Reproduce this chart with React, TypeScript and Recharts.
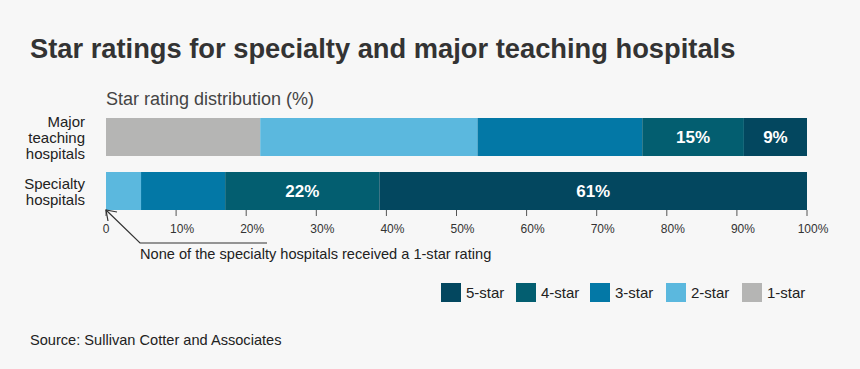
import { BarChart, Bar, XAxis, YAxis, LabelList } from 'recharts'

const categories = ['Major teaching hospitals', 'Specialty hospitals']
const categoryLines = [
  ['Major', 'teaching', 'hospitals'],
  ['Specialty', 'hospitals'],
]
const oneStar = [22, 0]
const twoStar = [31, 5]
const threeStar = [23.5, 12]
const fourStar = [14.5, 22]
const fiveStar = [9, 61]
const xTicks = [0, 10, 20, 30, 40, 50, 60, 70, 80, 90, 100]

const FONT = '"Liberation Sans", Arial, Helvetica, sans-serif'

const series = [
  { key: 'one', name: '1-star', color: '#b5b5b4', values: oneStar, label: false },
  { key: 'two', name: '2-star', color: '#5bb8de', values: twoStar, label: false },
  { key: 'three', name: '3-star', color: '#0378a6', values: threeStar, label: false },
  { key: 'four', name: '4-star', color: '#035e70', values: fourStar, label: true },
  { key: 'five', name: '5-star', color: '#03475f', values: fiveStar, label: true },
]

const data = categories.map((name, i) => {
  const row: any = { name }
  series.forEach((s) => (row[s.key] = s.values[i]))
  return row
})

const CategoryTick = ({ x, y, payload }: any) => {
  const lines = categoryLines[categories.indexOf(payload.value)] || [payload.value]
  const step = 16
  const first = y - ((lines.length - 1) * step) / 2 + 5.5
  return (
    <text x={x - 13} y={first} textAnchor="end" fill="#222" fontSize={15} fontFamily={FONT}>
      {lines.map((l: string, i: number) => (
        <tspan key={i} x={x - 13} y={first + i * step}>
          {l}
        </tspan>
      ))}
    </text>
  )
}

const PercentTick = ({ x, y, payload }: any) => {
  const v = payload.value
  return (
    <g>
      <line x1={x} x2={x} y1={y - 8} y2={y - 2} stroke="#555" strokeWidth={1} />
      <text x={v === 0 ? x : x + 6} y={y + 15} textAnchor="middle" fill="#333" fontSize={12} fontFamily={FONT}>
        {v === 0 ? '0' : `${v}%`}
      </text>
    </g>
  )
}

const SegmentLabel = ({ x, y, width, height, value }: any) => (
  <text
    x={x + width / 2}
    y={y + height / 2 + 6}
    textAnchor="middle"
    fill="#fff"
    fontSize={17}
    fontWeight="bold"
    fontFamily={FONT}
  >
    {`${Math.round(value)}%`}
  </text>
)

const legendOrder = [...series].reverse()
const legendX = [441, 516, 590, 666, 742]

export default function App() {
  return (
    <div
      style={{
        position: 'fixed',
        left: 0,
        top: 0,
        width: 860,
        height: 369,
        background: '#f7f7f7',
        fontFamily: FONT,
        overflow: 'hidden',
      }}
    >
      <div style={{ position: 'absolute', left: 30, top: 33, fontSize: 27.3, fontWeight: 'bold', color: '#333', whiteSpace: 'nowrap' }}>
        Star ratings for specialty and major teaching hospitals
      </div>
      <div style={{ position: 'absolute', left: 106, top: 89, fontSize: 18, color: '#444', whiteSpace: 'nowrap' }}>
        Star rating distribution (%)
      </div>

      <div style={{ position: 'absolute', left: 0, top: 0 }}>
        <BarChart
          width={860}
          height={369}
          data={data}
          layout="vertical"
          barSize={38}
          margin={{ top: 110, right: 53, bottom: 121, left: 0 }}
        >
          <XAxis
            type="number"
            domain={[0, 100]}
            ticks={xTicks}
            axisLine={false}
            tickLine={false}
            tickSize={0}
            tickMargin={0}
            height={30}
            tick={<PercentTick />}
            interval={0}
          />
          <YAxis
            type="category"
            dataKey="name"
            width={106}
            axisLine={false}
            tickLine={false}
            tick={<CategoryTick />}
          />
          {series.map((s) => (
            <Bar key={s.key} dataKey={s.key} stackId="a" fill={s.color} isAnimationActive={false}>
              {s.label && <LabelList dataKey={s.key} content={<SegmentLabel />} />}
            </Bar>
          ))}
        </BarChart>
      </div>

      <svg width={860} height={369} style={{ position: 'absolute', left: 0, top: 0, pointerEvents: 'none' }}>
        <path d="M106,210 L140,243 L267,243" fill="none" stroke="#333" strokeWidth={1.2} />
        <path d="M117,212 L106,210 L108,221" fill="none" stroke="#333" strokeWidth={1.2} />
      </svg>
      <div style={{ position: 'absolute', left: 140, top: 246, fontSize: 14.6, color: '#222', whiteSpace: 'nowrap' }}>
        None of the specialty hospitals received a 1-star rating
      </div>

      {legendOrder.map((s, i) => (
        <div key={s.key} style={{ position: 'absolute', left: legendX[i], top: 283, display: 'flex', alignItems: 'center', whiteSpace: 'nowrap' }}>
          <div style={{ width: 20, height: 19, background: s.color, marginRight: 5 }} />
          <span style={{ fontSize: 15, color: '#222' }}>{s.name}</span>
        </div>
      ))}

      <div style={{ position: 'absolute', left: 30, top: 332, fontSize: 14.6, color: '#222', whiteSpace: 'nowrap' }}>
        Source: Sullivan Cotter and Associates
      </div>
    </div>
  )
}
